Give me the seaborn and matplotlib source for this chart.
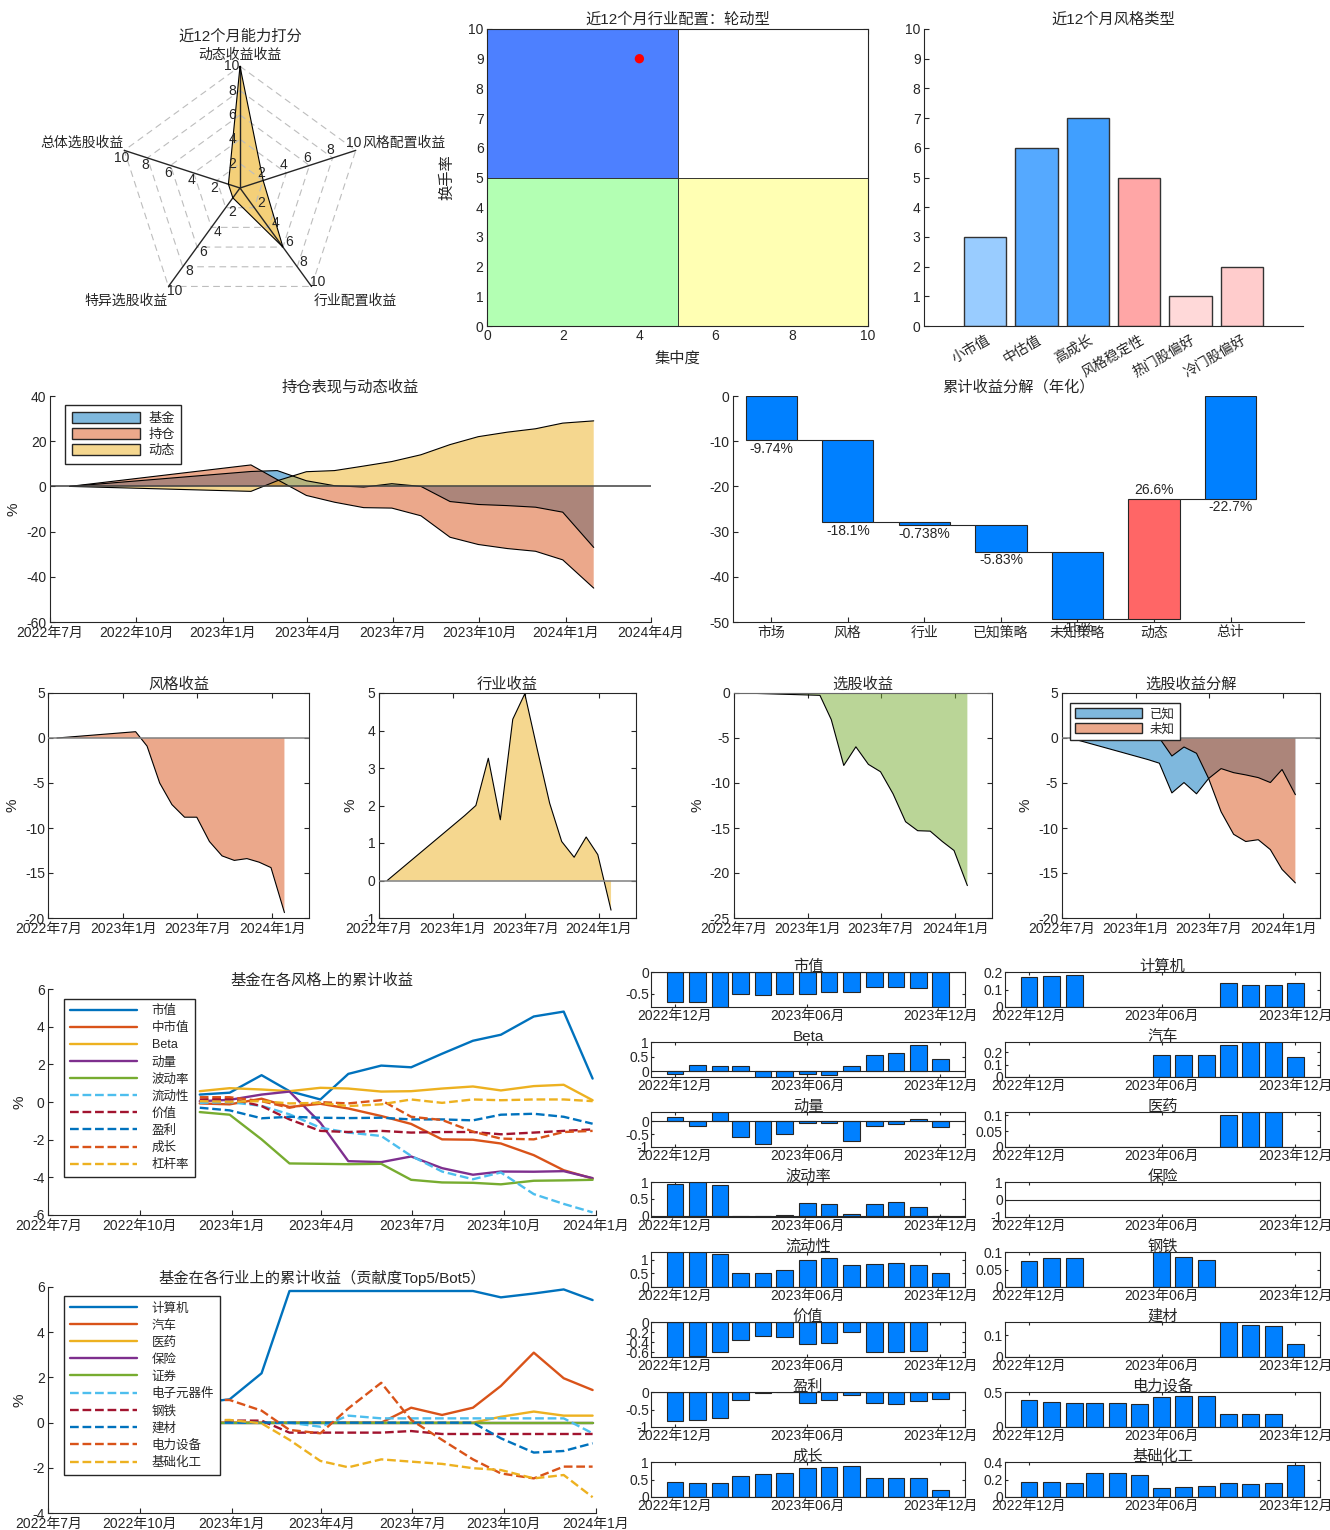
"""基金能力画像：雷达、象限、收益分解与风格/行业暴露的组合图。"""
import matplotlib
matplotlib.use("Agg")
import matplotlib.dates as mdates
import matplotlib.pyplot as plt
import numpy as np
import pandas as pd
import seaborn as sns
from matplotlib.colors import to_rgba
from matplotlib.patches import Patch
from matplotlib.ticker import FuncFormatter

W, H = 1330, 1530
INK = "#262626"
BLUE, ORANGE, YELLOW, PURPLE, GREEN, CYAN, DARKRED = (
    "#0072BD", "#D95319", "#EDB120", "#7E2F8E", "#77AC30", "#4DBEEE", "#A2142F")
BAR_BLUE, BAR_RED = "#0080FF", "#FF6666"

# ---- 近12个月能力打分 ----
RADAR_AXES = ["动态收益收益", "风格配置收益", "行业配置收益", "特异选股收益", "总体选股收益"]
RADAR_SCORES = [10, 2, 6, 1, 1]
RADAR_LEVELS = [2, 4, 6, 8, 10]

# ---- 行业配置象限 ----
ALLOC_CONC, ALLOC_TURN = [4], [9]
QUAD_LEFT = [0, 5, 0, 5]
QUAD_BOTTOM = [5, 5, 0, 0]
QUAD_COLORS = ["#4D80FF", "#FFFFFF", "#B3FFB3", "#FFFFB3"]

# ---- 近12个月风格类型 ----
STYLE_TYPES = ["小市值", "中估值", "高成长", "风格稳定性", "热门股偏好", "冷门股偏好"]
STYLE_SCORES = [3, 6, 7, 5, 1, 2]
STYLE_COLORS = ["#99CCFF", "#55A9FF", "#409FFF", "#FFA6A6", "#FFD9D9", "#FFCCCC"]

# ---- 月度累计收益 (%) ----
MONTHS = ["2022-07-22", "2023-01-31", "2023-02-28", "2023-03-31", "2023-04-30", "2023-05-31",
          "2023-06-30", "2023-07-31", "2023-08-31", "2023-09-30", "2023-10-31", "2023-11-30",
          "2023-12-29", "2024-01-31"]
FUND_RET = [0, 6.6, 7.0, 2.5, 0.3, -0.3, 1.2, 0.0, -6.7, -8.0, -8.5, -9.2, -11.4, -27.0]
HOLD_RET = [0, 9.5, 3.0, -4.0, -7.0, -9.4, -9.6, -13.0, -22.5, -25.7, -27.5, -28.7, -32.5, -45.0]
DYN_RET = [0, -2.2, 2.5, 6.5, 7.0, 9.0, 11.0, 14.0, 18.5, 22.0, 24.0, 25.5, 28.0, 29.0]
STYLE_RET = [0, 0.7, -0.9, -5.0, -7.4, -8.8, -8.8, -11.5, -13.1, -13.6, -13.4, -13.8, -14.4, -19.4]
IND_RET = [0, 1.73, 2.0, 3.26, 1.62, 4.3, 4.98, 3.5, 2.06, 1.04, 0.62, 1.16, 0.69, -0.79]
SEL_RET = [0, -0.26, -2.95, -8.05, -5.98, -7.93, -8.75, -11.2, -14.3, -15.3, -15.35, -16.5, -17.5, -21.4]
KNOWN_RET = [0, -2.4, -2.8, -6.1, -4.95, -6.2, -4.5, -3.4, -3.85, -4.1, -4.4, -4.95, -3.5, -6.3]
UNKNOWN_RET = [0, 0.0, 0.0, -2.0, -1.0, -1.7, -4.5, -8.2, -10.7, -11.5, -11.3, -12.4, -14.6, -16.1]

# ---- 累计收益分解（年化） ----
WF_NAMES = ["市场", "风格", "行业", "已知策略", "未知策略", "动态", "总计"]
WF_STEPS = [-9.74, -18.1, -0.738, -5.83, -15.0, 26.6]
WF_TOTAL = -22.7

# ---- 各风格 / 行业累计收益 (%) ----
CUM_DATES = ["2022-11-30", "2022-12-30", "2023-01-31", "2023-02-28", "2023-03-31", "2023-04-28",
             "2023-05-31", "2023-06-30", "2023-07-31", "2023-08-31", "2023-09-28", "2023-10-31",
             "2023-11-30", "2023-12-29"]
STYLE_NAMES = ["市值", "中市值", "Beta", "动量", "波动率", "流动性", "价值", "盈利", "成长", "杠杆率"]
CUM_SIZE = [0.4, 0.5, 1.43, 0.58, 0.14, 1.5, 1.94, 1.85, 2.57, 3.26, 3.58, 4.55, 4.81, 1.25]
CUM_MIDCAP = [-0.07, -0.12, 0.18, -0.26, -0.09, -0.34, -0.74, -1.16, -1.98, -2.0, -2.2, -2.82, -3.62, -4.06]
CUM_BETA = [0.58, 0.74, 0.67, 0.58, 0.76, 0.72, 0.56, 0.58, 0.72, 0.83, 0.62, 0.85, 0.92, 0.1]
CUM_MOM = [0.05, 0.12, 0.4, 0.56, -1.1, -3.14, -3.19, -2.89, -3.51, -3.86, -3.69, -3.7, -3.67, -4.04]
CUM_VOL = [-0.53, -0.67, -1.98, -3.26, -3.28, -3.3, -3.28, -4.13, -4.27, -4.29, -4.37, -4.18, -4.16, -4.13]
CUM_LIQ = [-0.04, 0.0, -0.2, -0.65, -1.36, -1.62, -1.8, -2.86, -3.69, -4.1, -3.74, -4.89, -5.41, -5.86]
CUM_VALUE = [0.14, 0.18, -0.21, -0.92, -1.53, -1.59, -1.53, -1.62, -1.59, -1.59, -1.71, -1.62, -1.53, -1.45]
CUM_PROFIT = [-0.3, -0.44, -0.86, -0.78, -0.83, -0.85, -0.83, -0.92, -0.92, -0.97, -0.67, -0.62, -0.78, -1.15]
CUM_GROWTH = [0.26, 0.26, 0.05, -0.3, 0.0, -0.07, 0.1, -0.78, -0.95, -1.57, -1.94, -1.98, -1.59, -1.53]
CUM_LEVER = [0.05, 0.02, 0.05, -0.07, -0.04, -0.21, -0.12, 0.14, -0.04, 0.14, 0.1, 0.14, 0.14, 0.05]

IND_NAMES = ["计算机", "汽车", "医药", "保险", "证券", "电子元器件", "钢铁", "建材", "电力设备", "基础化工"]
CUM_COMPUTER = [0.88, 1.03, 2.18, 5.81, 5.81, 5.81, 5.81, 5.81, 5.81, 5.81, 5.53, 5.7, 5.88, 5.41]
CUM_AUTO = [0, 0, 0, 0, 0, 0, 0, 0.66, 0.34, 0.66, 1.62, 3.09, 1.96, 1.44]
CUM_PHARMA = [0, 0, 0, 0, 0, 0, 0, 0, 0, 0, 0.26, 0.49, 0.31, 0.31]
CUM_INSUR = [0] * 14
CUM_BROKER = [0] * 14
CUM_ELEC = [0, 0, 0, 0, -0.18, 0.31, 0.19, 0.19, 0.19, 0.19, 0.19, 0.19, 0.19, -0.47]
CUM_STEEL = [0.09, 0.09, 0.09, -0.44, -0.44, -0.44, -0.44, -0.37, -0.5, -0.5, -0.5, -0.5, -0.5, -0.5]
CUM_BUILD = [0, 0, 0, 0, 0, 0, 0, 0, 0, 0, -0.69, -1.32, -1.25, -0.91]
CUM_POWER = [1.0, 1.0, 0.53, -0.32, -0.47, 0.63, 1.76, 0.12, -0.76, -1.62, -2.24, -2.46, -1.94, -1.94]
CUM_CHEM = [0.1, 0.12, -0.03, -0.76, -1.69, -1.97, -1.62, -1.72, -1.82, -2.01, -2.09, -2.46, -2.31, -3.29]

# ---- 月度暴露柱状图 ----
BAR_MONTHS = pd.date_range("2022-12-01", "2023-12-01", freq="MS")
BAR_SIZE = [-0.69, -0.7, -0.81, -0.5, -0.53, -0.5, -0.5, -0.47, -0.47, -0.35, -0.35, -0.36, -0.81]
BAR_BETA = [-0.08, 0.2, 0.17, 0.19, -0.2, -0.2, -0.08, -0.12, 0.19, 0.55, 0.63, 0.9, 0.42]
BAR_MOM = [0.15, -0.2, 0.35, -0.62, -0.87, -0.5, -0.08, -0.08, -0.76, -0.2, -0.12, 0.08, -0.22]
BAR_VOL = [0.93, 1.0, 0.9, -0.01, 0.0, 0.02, 0.37, 0.36, 0.05, 0.36, 0.4, 0.27, -0.01]
BAR_LIQ = [1.28, 1.28, 1.2, 0.52, 0.5, 0.62, 0.97, 1.07, 0.82, 0.85, 0.88, 0.8, 0.5]
BAR_VALUE = [-0.7, -0.68, -0.6, -0.35, -0.27, -0.3, -0.43, -0.42, -0.2, -0.6, -0.6, -0.57, np.nan]
BAR_PROFIT = [-0.83, -0.8, -0.74, -0.23, -0.03, -0.01, -0.3, -0.22, -0.08, -0.31, -0.35, -0.27, -0.19]
BAR_GROWTH = [0.43, 0.4, 0.4, 0.6, 0.67, 0.7, 0.83, 0.85, 0.9, 0.55, 0.55, 0.55, 0.2]
N = np.nan
BAR_COMPUTER = [0.17, 0.18, 0.185, N, N, N, N, N, N, 0.135, 0.128, 0.125, 0.135]
BAR_AUTO = [N, N, N, N, N, N, 0.18, 0.18, 0.18, 0.26, 0.285, 0.283, 0.16]
BAR_PHARMA = [N, N, N, N, N, N, N, N, N, 0.1, 0.11, 0.11, N]
BAR_INSUR = [N] * 13
BAR_STEEL = [0.075, 0.083, 0.082, N, N, N, 0.1, 0.085, 0.077, N, N, N, N]
BAR_BUILD = [N, N, N, N, N, N, N, N, N, 0.16, 0.145, 0.143, 0.06]
BAR_POWER = [0.38, 0.36, 0.34, 0.35, 0.34, 0.33, 0.43, 0.44, 0.44, 0.19, 0.18, 0.18, N]
BAR_CHEM = [0.17, 0.17, 0.165, 0.28, 0.27, 0.255, 0.105, 0.12, 0.125, 0.155, 0.15, 0.155, 0.37]

QTR_TICKS = ["2022-07-01", "2022-10-01", "2023-01-01", "2023-04-01", "2023-07-01", "2023-10-01", "2024-01-01", "2024-04-01"]
QTR_LABELS = ["2022年7月", "2022年10月", "2023年1月", "2023年4月", "2023年7月", "2023年10月", "2024年1月", "2024年4月"]
HALF_TICKS = ["2022-07-01", "2023-01-01", "2023-07-01", "2024-01-01"]
HALF_LABELS = ["2022年7月", "2023年1月", "2023年7月", "2024年1月"]
BAR_TICKS = ["2022-12-01", "2023-06-01", "2023-12-01"]
BAR_LABELS = ["2022年12月", "2023年06月", "2023年12月"]


def dnum(seq):
    return mdates.date2num(pd.to_datetime(seq))


def axes_px(fig, l, t, r, b):
    return fig.add_axes([l / W, 1 - b / H, (r - l) / W, (b - t) / H])


def fmt_y(ax):
    ax.yaxis.set_major_formatter(FuncFormatter(lambda v, _: f"{v:g}"))


def box_on(ax):
    for s in ax.spines.values():
        s.set_visible(True)
    ax.tick_params(top=True, right=True, labeltop=False, labelright=False)


def box_off(ax):
    ax.spines[["top", "right"]].set_visible(False)


def area_panel(ax, x, series, colors, zero_color="#808080"):
    for vals, c in zip(series, colors):
        ax.fill_between(x, vals, 0, facecolor=to_rgba(c, 0.5), edgecolor="none")
        ax.plot(x, vals, color="black", lw=0.8)
    ax.axhline(0, color=zero_color, lw=1.1, zorder=3)


sns.set_theme(style="ticks")
plt.rcParams["font.family"] = ["Liberation Sans", "Noto Sans CJK SC"]
plt.rcParams.update({
    "axes.unicode_minus": False, "axes.edgecolor": INK, "axes.linewidth": 0.8,
    "xtick.color": INK, "ytick.color": INK, "xtick.direction": "in", "ytick.direction": "in",
    "xtick.major.size": 3.5, "ytick.major.size": 3.5, "xtick.major.width": 0.8,
    "ytick.major.width": 0.8, "xtick.labelsize": 10, "ytick.labelsize": 10,
    "xtick.major.pad": 2.5, "ytick.major.pad": 2.5, "axes.titlesize": 11,
    "axes.titlepad": 3, "axes.labelsize": 11, "axes.labelcolor": INK,
    "legend.fontsize": 9.5, "legend.edgecolor": INK, "legend.fancybox": False,
    "legend.framealpha": 1,
})

fig = plt.figure(figsize=(W / 100, H / 100), dpi=100)

# ================= 雷达图 =================
R = 12.17
ax = axes_px(fig, 0, 10, 470, 330)
ax.set_xlim(-240 / R, 230 / R)
ax.set_ylim(-(330 - 188) / R, (188 - 10) / R)
ax.axis("off")
ang = np.deg2rad(90 - 72 * np.arange(len(RADAR_AXES)))
cx, cy = np.cos(ang), np.sin(ang)
for lv in RADAR_LEVELS:
    ax.plot(np.append(lv * cx, lv * cx[0]), np.append(lv * cy, lv * cy[0]),
            color="#BDBDBD", lw=0.8, ls=(0, (6, 4)))
for a, b in zip(cx, cy):
    ax.plot([0, 10 * a], [0, 10 * b], color=INK, lw=1.0)
sc = np.array(RADAR_SCORES, dtype=float)
ax.fill(sc * cx, sc * cy, color=YELLOW, alpha=0.6, lw=0)
ax.plot(np.append(sc * cx, sc[0] * cx[0]), np.append(sc * cy, sc[0] * cy[0]), color="black", lw=0.8)
for a, b in zip(cx, cy):
    for lv in RADAR_LEVELS:
        ax.text(lv * a - 0.65 * b, lv * b + 0.65 * a, str(lv), ha="center", va="center", fontsize=10)
label_pos = [((240, 55), "center"), ((362, 143), "left"), ((355, 301), "center"),
             ((126, 301), "center"), ((82, 143), "center")]
for name, ((px, py), ha) in zip(RADAR_AXES, label_pos):
    ax.text((px - 240) / R, (188 - py) / R, name, ha=ha, va="center", fontsize=10)
ax.text(0, (188 - 37) / R, "近12个月能力打分", ha="center", va="center", fontsize=11)

# ================= 行业配置象限 =================
ax = axes_px(fig, 487, 29, 868, 326)
ax.bar(QUAD_LEFT, 5, width=5, bottom=QUAD_BOTTOM, align="edge", color=QUAD_COLORS,
       edgecolor=INK, linewidth=0.6)
sns.scatterplot(x=ALLOC_CONC, y=ALLOC_TURN, color="red", s=45, edgecolor="none", ax=ax, zorder=5)
ax.set_xlim(0, 10)
ax.set_ylim(0, 10)
ax.set_xticks(range(0, 11, 2))
ax.set_yticks(range(0, 11))
box_on(ax)
ax.set_xlabel("集中度", labelpad=6)
ax.set_ylabel("换手率", labelpad=10)
ax.set_title("近12个月行业配置：轮动型", pad=4)

# ================= 风格类型 =================
ax = axes_px(fig, 924, 29, 1303, 326)
sns.barplot(x=STYLE_TYPES, y=STYLE_SCORES, hue=STYLE_TYPES, palette=STYLE_COLORS, legend=False,
            saturation=1, width=0.82, edgecolor="#333333", linewidth=1.0, ax=ax)
ax.set_xlim(-1.19, 6.19)
ax.set_ylim(0, 10)
ax.set_yticks(range(0, 11))
box_off(ax)
ax.tick_params(axis="x", length=0, pad=5)
plt.setp(ax.get_xticklabels(), rotation=30, ha="right", rotation_mode="anchor")
ax.set_title("近12个月风格类型", pad=4)

# ================= 持仓表现与动态收益 =================
xm = dnum(MONTHS)
ax = axes_px(fig, 50, 396, 651, 622)
area_panel(ax, xm, [FUND_RET, HOLD_RET, DYN_RET], [BLUE, ORANGE, YELLOW], zero_color="#404040")
ax.set_xlim(dnum(["2022-07-01"])[0], dnum(["2024-04-01"])[0])
ax.set_ylim(-60, 40)
ax.set_xticks(dnum(QTR_TICKS))
ax.set_xticklabels(QTR_LABELS)
box_off(ax)
fmt_y(ax)
ax.set_ylabel("%", labelpad=4)
ax.set_title("持仓表现与动态收益", pad=3)
handles = [Patch(facecolor=to_rgba(c, 0.5), edgecolor=INK, label=l)
           for c, l in zip([BLUE, ORANGE, YELLOW], ["基金", "持仓", "动态"])]
ax.legend(handles=handles, loc="upper left", bbox_to_anchor=(0.025, 0.96), borderaxespad=0,
          handlelength=5.2, handleheight=0.9, labelspacing=0.25, borderpad=0.5, handletextpad=0.6)

# ================= 累计收益分解（年化） =================
ax = axes_px(fig, 733, 396, 1304, 622)
levels = np.concatenate([[0], np.cumsum(WF_STEPS)])
pos = np.arange(1, len(WF_STEPS) + 1)
bw = 0.67
ax.bar(pos, np.diff(levels), bottom=levels[:-1], width=bw,
       color=[BAR_RED if v > 0 else BAR_BLUE for v in WF_STEPS], edgecolor=INK, linewidth=0.8)
ax.bar([len(WF_NAMES)], [WF_TOTAL], width=bw, color=BAR_BLUE, edgecolor=INK, linewidth=0.8)
ax.hlines(levels[1:], pos + bw / 2, pos + 1 - bw / 2, color=INK, lw=0.8)
for p, v, end in zip(pos, WF_STEPS, levels[1:]):
    if v > 0:
        ax.text(p, end + 0.4, f"{v:.3g}%", ha="center", va="bottom", fontsize=10)
    else:
        ax.text(p, end - 0.4, f"{v:.3g}%", ha="center", va="top", fontsize=10)
ax.text(len(WF_NAMES), WF_TOTAL - 0.4, f"{WF_TOTAL:.3g}%", ha="center", va="top", fontsize=10)
ax.set_xlim(0.5, 7.96)
ax.set_ylim(-50, 0)
ax.set_xticks(range(1, len(WF_NAMES) + 1))
ax.set_xticklabels(WF_NAMES)
box_off(ax)
fmt_y(ax)
ax.set_title("累计收益分解（年化）", pad=3)

# ================= 第三行：分项收益 =================
lim_full = (dnum(["2022-07-01"])[0], dnum(["2024-04-01"])[0])
row3 = [
    ((48.4, 309.3), "风格收益", [STYLE_RET], [ORANGE], (-20, 5), None),
    ((378.8, 635.5), "行业收益", [IND_RET], [YELLOW], (-1, 5), None),
    ((733.5, 992.0), "选股收益", [SEL_RET], [GREEN], (-25, 0), None),
    ((1061.7, 1320.0), "选股收益分解", [KNOWN_RET, UNKNOWN_RET], [BLUE, ORANGE], (-20, 5), ["已知", "未知"]),
]
for (l, r), title, series, colors, ylim, names in row3:
    ax = axes_px(fig, l, 693, r, 918)
    area_panel(ax, xm, series, colors)
    ax.set_xlim(*lim_full)
    ax.set_ylim(*ylim)
    ax.set_xticks(dnum(HALF_TICKS))
    ax.set_xticklabels(HALF_LABELS)
    box_on(ax)
    fmt_y(ax)
    ax.set_ylabel("%", labelpad=4)
    ax.set_title(title, pad=3)
    if names:
        hs = [Patch(facecolor=to_rgba(c, 0.5), edgecolor=INK, label=n) for c, n in zip(colors, names)]
        ax.legend(handles=hs, loc="upper left", bbox_to_anchor=(0.032, 0.956), borderaxespad=0,
                  handlelength=5.4, handleheight=0.9, labelspacing=0.2, borderpad=0.4, fontsize=9,
                  handletextpad=0.6)

# ================= 第四行：各风格 / 行业累计收益 =================
xc = dnum(CUM_DATES)
lim_cum = (dnum(["2022-07-01"])[0], dnum(["2024-01-01"])[0])
solid_cols = [BLUE, ORANGE, YELLOW, PURPLE, GREEN]
dash_cols = [CYAN, DARKRED, BLUE, ORANGE, YELLOW]
line_panels = [
    ((48.2, 989.2, 595.6, 1215.0), "基金在各风格上的累计收益", STYLE_NAMES,
     [CUM_SIZE, CUM_MIDCAP, CUM_BETA, CUM_MOM, CUM_VOL, CUM_LIQ, CUM_VALUE, CUM_PROFIT, CUM_GROWTH, CUM_LEVER],
     (-6, 6), range(-6, 7, 2)),
    ((48.2, 1286.7, 595.6, 1513.3), "基金在各行业上的累计收益（贡献度Top5/Bot5）", IND_NAMES,
     [CUM_COMPUTER, CUM_AUTO, CUM_PHARMA, CUM_INSUR, CUM_BROKER, CUM_ELEC, CUM_STEEL, CUM_BUILD, CUM_POWER, CUM_CHEM],
     (-4, 6), range(-4, 7, 2)),
]
for (l, t, r, b), title, names, series, ylim, yt in line_panels:
    ax = axes_px(fig, l, t, r, b)
    for i, (name, vals) in enumerate(zip(names, series)):
        col = (solid_cols + dash_cols)[i]
        sns.lineplot(x=xc, y=vals, color=col, linestyle="-" if i < 5 else "--", lw=1.7,
                     label=name, ax=ax)
    ax.set_xlim(*lim_cum)
    ax.set_ylim(*ylim)
    ax.set_yticks(list(yt))
    ax.set_xticks(dnum(QTR_TICKS[:-1]))
    ax.set_xticklabels(QTR_LABELS[:-1])
    box_off(ax)
    fmt_y(ax)
    ax.set_ylabel("%", labelpad=4)
    ax.set_title(title, pad=3)
    ax.legend(loc="upper left", bbox_to_anchor=(0.029, 0.957), borderaxespad=0, fontsize=9,
              handlelength=5.3, labelspacing=0.4, borderpad=0.5, handletextpad=1.2)

# ================= 月度暴露柱状图 =================
xb = dnum(BAR_MONTHS)
lim_bar = (dnum(["2022-10-29"])[0], dnum(["2024-01-04"])[0])
left_col = [
    ("市值", BAR_SIZE, (-0.81, 0), [-0.5, 0]),
    ("Beta", BAR_BETA, (-0.2, 1.0), [0, 0.5, 1]),
    ("动量", BAR_MOM, (-1, 0.35), [-1, -0.5, 0]),
    ("波动率", BAR_VOL, (-0.03, 1.0), [0, 0.5, 1]),
    ("流动性", BAR_LIQ, (0, 1.28), [0, 0.5, 1]),
    ("价值", BAR_VALUE, (-0.7, 0), [-0.6, -0.4, -0.2, 0]),
    ("盈利", BAR_PROFIT, (-1, 0), [-1, -0.5, 0]),
    ("成长", BAR_GROWTH, (0, 1), [0, 0.5, 1]),
]
right_col = [
    ("计算机", BAR_COMPUTER, (0, 0.2), [0, 0.1, 0.2]),
    ("汽车", BAR_AUTO, (0, 0.285), [0, 0.1, 0.2]),
    ("医药", BAR_PHARMA, (0, 0.11), [0, 0.05, 0.1]),
    ("保险", BAR_INSUR, (-1, 1), [-1, 0, 1]),
    ("钢铁", BAR_STEEL, (0, 0.1), [0, 0.05, 0.1]),
    ("建材", BAR_BUILD, (0, 0.16), [0, 0.1]),
    ("电力设备", BAR_POWER, (0, 0.5), [0, 0.5]),
    ("基础化工", BAR_CHEM, (0, 0.4), [0, 0.2, 0.4]),
]
for (l, r), col in [((651, 965), left_col), ((1005, 1320), right_col)]:
    for i, (title, vals, ylim, yt) in enumerate(col):
        t = 972 + 70 * i
        ax = axes_px(fig, l, t, r, t + 35)
        ax.bar(xb, vals, width=23, color=BAR_BLUE, edgecolor=INK, linewidth=0.8)
        ax.axhline(0, color=INK, lw=0.8)
        ax.set_xlim(*lim_bar)
        ax.set_ylim(*ylim)
        ax.set_yticks(yt)
        ax.set_xticks(dnum(BAR_TICKS))
        ax.set_xticklabels(BAR_LABELS)
        ax.tick_params(length=2.5, pad=1.5)
        box_on(ax)
        fmt_y(ax)
        ax.set_title(title, pad=1)

fig.savefig("out.png", dpi=100)
